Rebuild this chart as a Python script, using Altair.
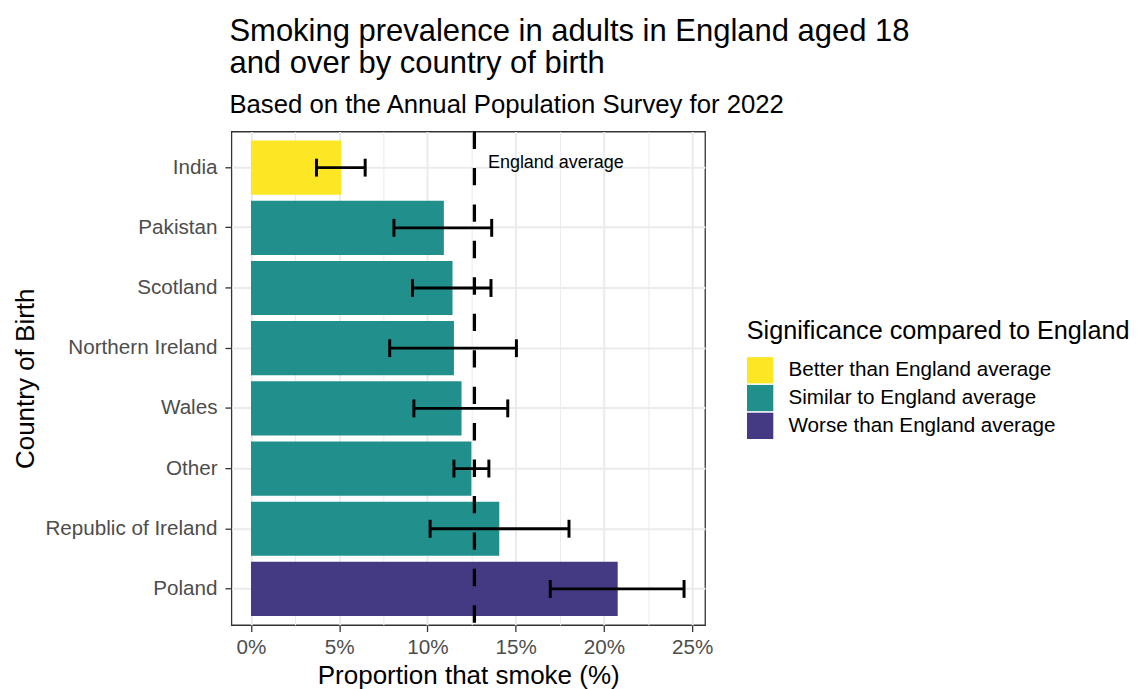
import altair as alt
import pandas as pd

countries = ["India", "Pakistan", "Scotland", "Northern Ireland", "Wales",
             "Other", "Republic of Ireland", "Poland"]
prevalence = [5.12, 10.93, 11.42, 11.50, 11.93, 12.49, 14.07, 20.78]
lower_ci = [3.71, 8.10, 9.15, 7.86, 9.23, 11.50, 10.15, 16.96]
upper_ci = [6.47, 13.64, 13.60, 15.04, 14.55, 13.48, 18.02, 24.54]
significance = ["Better than England average"] + ["Similar to England average"] * 6 + ["Worse than England average"]
sig_levels = ["Better than England average", "Similar to England average", "Worse than England average"]
sig_colors = ["#FDE725", "#21908C", "#443A83"]
england_avg = 12.66
major_ticks = [0, 5, 10, 15, 20, 25]
minor_ticks = [2.5, 7.5, 12.5, 17.5, 22.5]

df = pd.DataFrame({"country": countries, "prevalence": prevalence,
                   "lower": lower_ci, "upper": upper_ci, "sig": significance})
caps = pd.DataFrame({"country": countries * 2, "end": lower_ci + upper_ci})
avg_df = pd.DataFrame({"avg": [england_avg], "country": [countries[0]],
                       "label": ["England average"]})

FONT = "Liberation Sans"
W, H = 477, 497
xscale = alt.Scale(domain=[-1.11, 25.73], nice=False, zero=False)
yscale = alt.Scale(domain=countries, paddingInner=0.1, paddingOuter=0.15)

y_enc = alt.Y("country:N", scale=yscale, sort=countries,
              axis=alt.Axis(title="Country of Birth", bandPosition=0.5,
                            grid=True, gridColor="#EBEBEB", gridWidth=2,
                            ticks=True, tickSize=6.5, tickColor="#333333", tickWidth=1.3,
                            domain=False, labelPadding=8, labelColor="#4D4D4D",
                            labelFontSize=20.8, titleFontSize=26.2, titlePadding=5,
                            titleColor="black", titleFontWeight="normal"))

bars = alt.Chart(df).mark_bar().encode(
    x=alt.X("prevalence:Q", scale=xscale,
            axis=alt.Axis(values=major_ticks, labelExpr="datum.value + '%'",
                          title="Proportion that smoke (%)", grid=True,
                          gridColor="#EBEBEB", gridWidth=2, domain=False,
                          tickSize=6.5, tickColor="#333333", tickWidth=1.3,
                          labelPadding=6.5, labelColor="#4D4D4D", labelFontSize=20.8,
                          titleFontSize=26.2, titlePadding=5, titleColor="black",
                          titleFontWeight="normal", orient="bottom")),
    y=y_enc,
    color=alt.Color("sig:N", scale=alt.Scale(domain=sig_levels, range=sig_colors),
                    legend=alt.Legend(title="Significance compared to England",
                                      orient="none", legendX=519, legendY=189,
                                      symbolType="square", symbolSize=700,
                                      symbolStrokeWidth=0, labelOffset=15,
                                      rowPadding=1, titlePadding=12.5, padding=0,
                                      labelFontSize=20.8, titleFontSize=25.4,
                                      labelLimit=600, titleLimit=600,
                                      labelColor="black", titleColor="black",
                                      titleFontWeight="normal")),
)

err = alt.Chart(df).mark_rule(color="black", strokeWidth=2.8).encode(
    x=alt.X("lower:Q", scale=xscale,
            axis=alt.Axis(values=minor_ticks, grid=True, gridColor="#EBEBEB",
                          gridWidth=1, labels=False, ticks=False, domain=False,
                          title=None, orient="bottom")),
    x2="upper:Q",
    y=y_enc,
)

cap_marks = alt.Chart(caps).mark_tick(color="black", size=18, thickness=3,
                                      opacity=1).encode(
    x=alt.X("end:Q", scale=xscale, axis=None),
    y=y_enc,
)

vline = alt.Chart(avg_df).mark_rule(color="black", strokeWidth=3.3,
                                    strokeDash=[17.5, 19.2]).encode(
    x=alt.X("avg:Q", scale=xscale, axis=None),
)

label = alt.Chart(avg_df).mark_text(align="left", baseline="alphabetic", dx=13.6,
                                    fontSize=18.1, color="black").encode(
    x=alt.X("avg:Q", scale=xscale, axis=None),
    y=y_enc,
    text="label:N",
)

chart = alt.layer(bars, err, cap_marks, vline, label).resolve_axis(
    x="independent"
).properties(
    width=W, height=H,
    title=alt.Title(["Smoking prevalence in adults in England aged 18",
                     "and over by country of birth"],
                    subtitle="Based on the Annual Population Survey for 2022",
                    anchor="start", frame="group", fontSize=31.2,
                    fontWeight="normal", color="black", lineHeight=32,
                    subtitleFontSize=25.9, subtitleColor="black",
                    subtitlePadding=14, offset=12, dx=-2),
    autosize=alt.AutoSizeParams(type="none"),
    padding={"left": 225, "top": 122, "right": 432, "bottom": 62},
).configure(
    font=FONT,
).configure_view(
    stroke="#333333", strokeWidth=1.3,
)

chart.save("out.html", embed_options={"renderer": "svg", "actions": False})
